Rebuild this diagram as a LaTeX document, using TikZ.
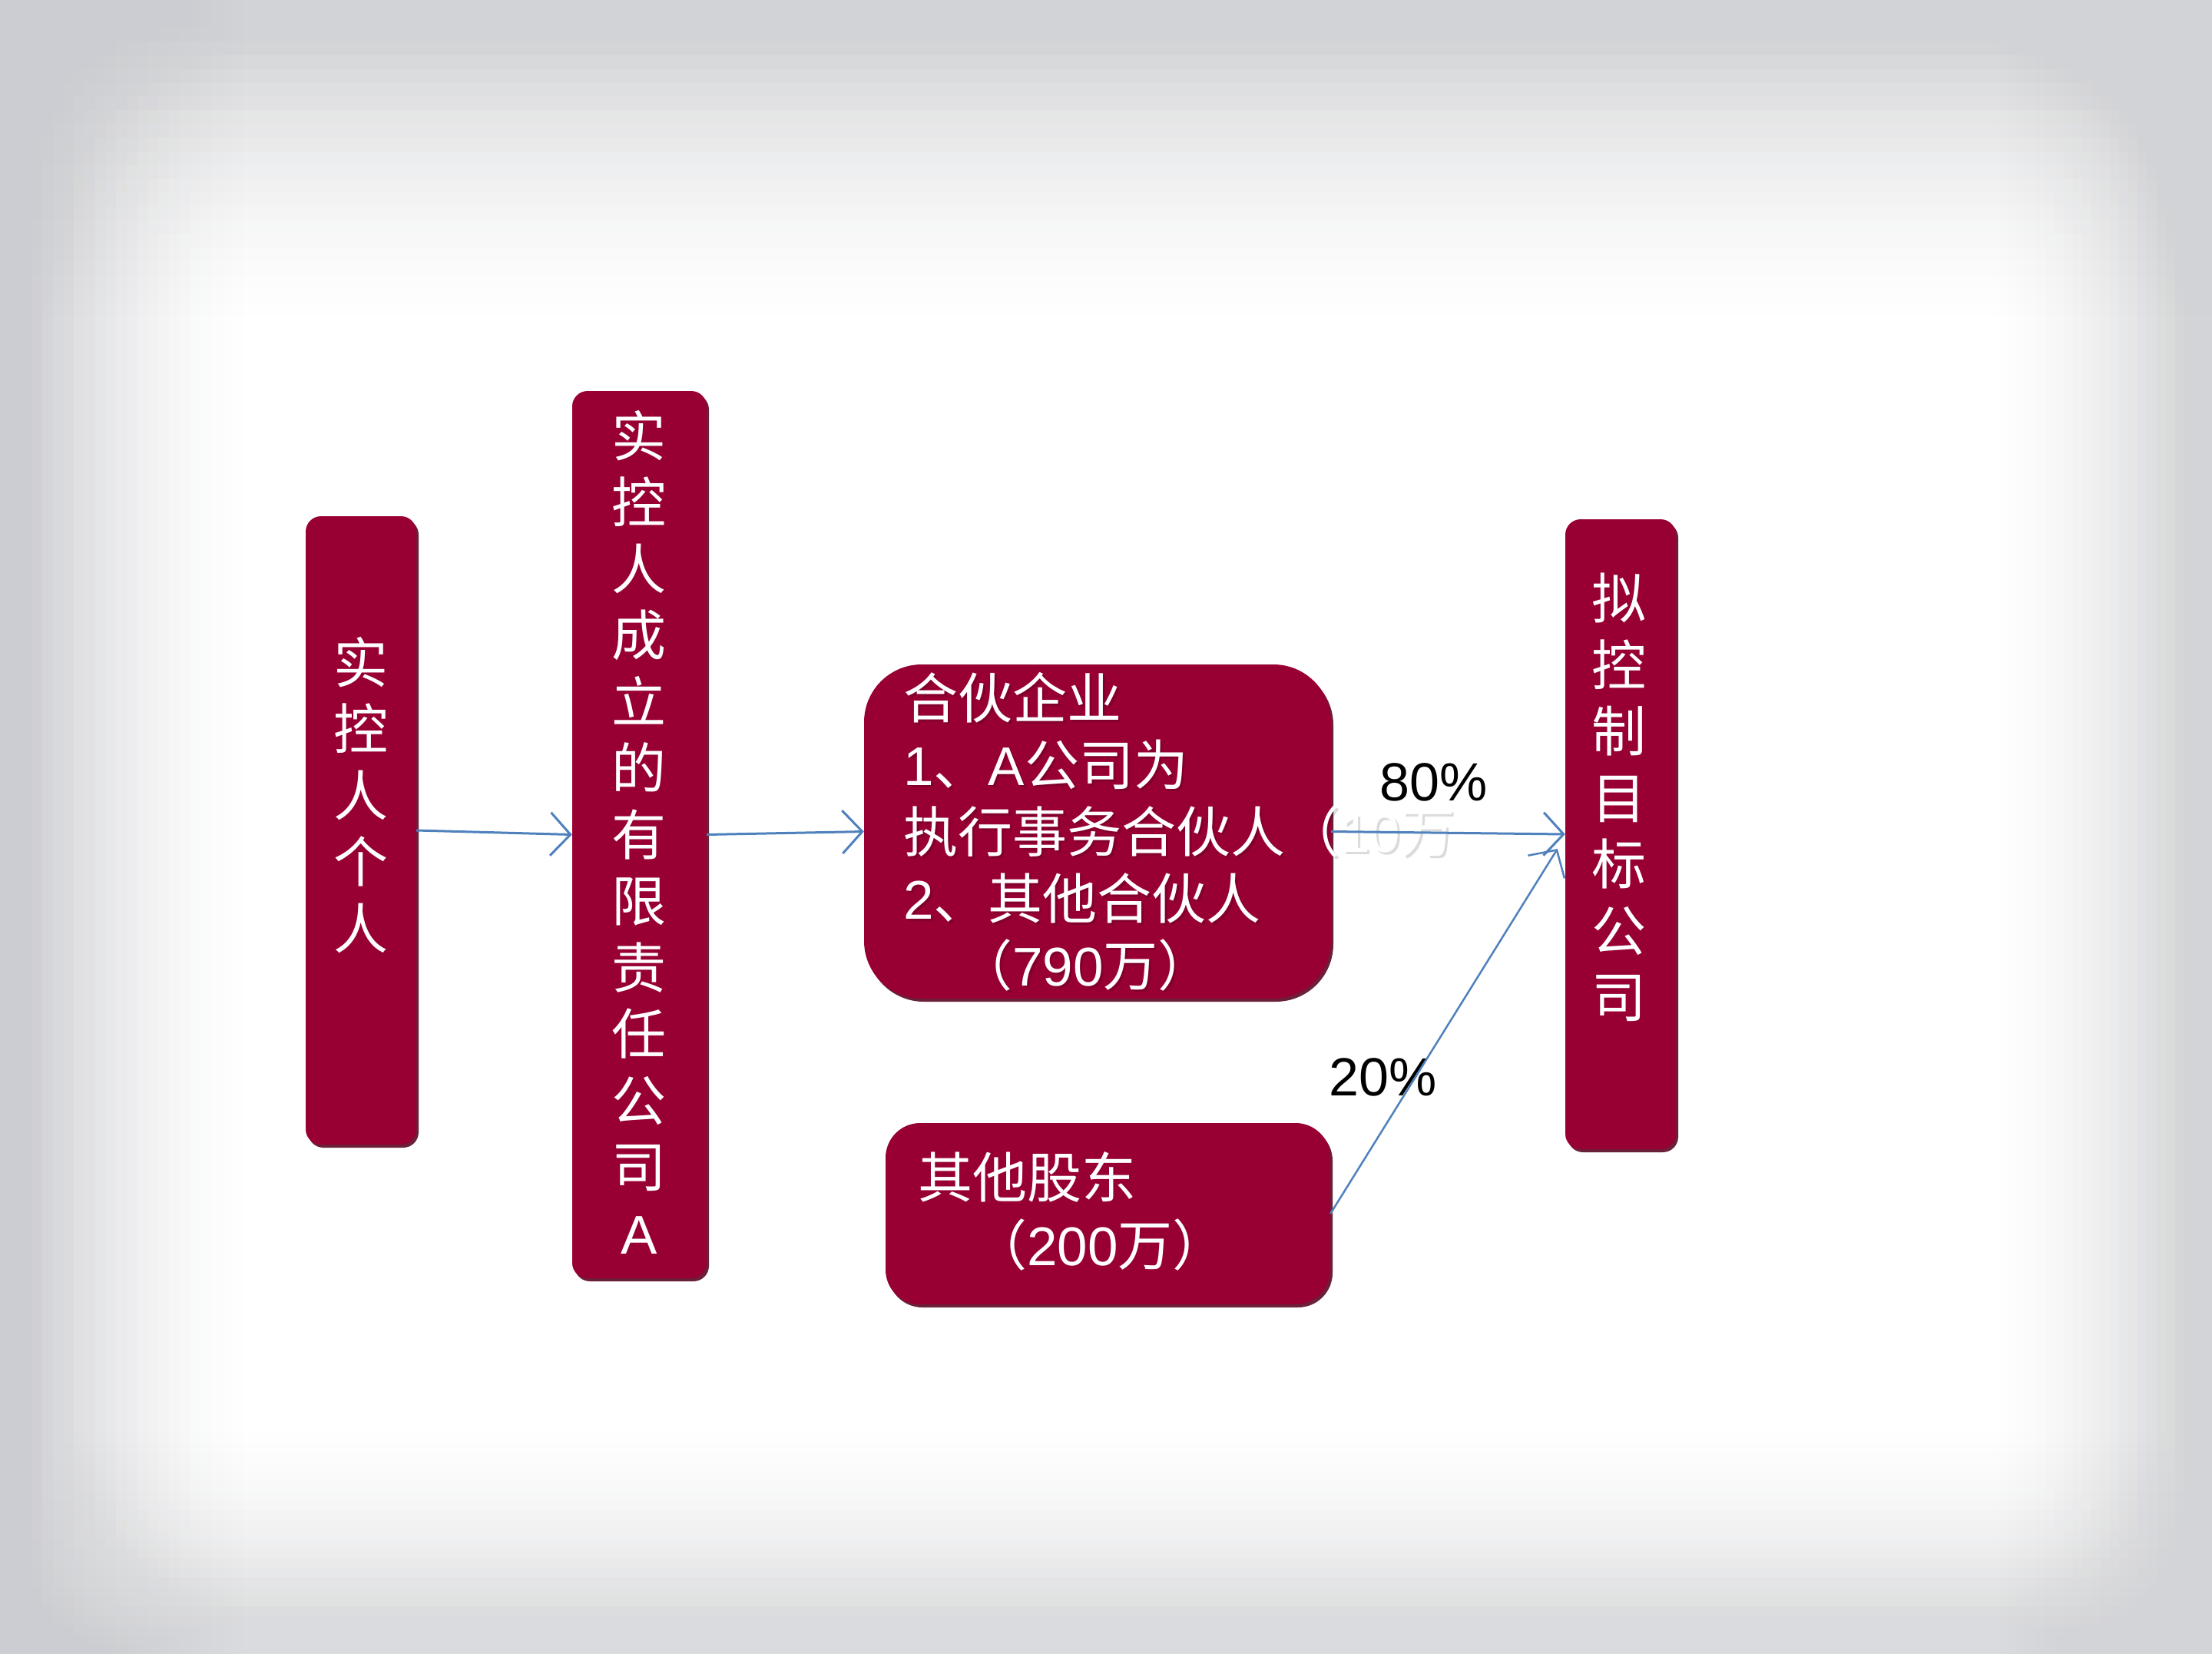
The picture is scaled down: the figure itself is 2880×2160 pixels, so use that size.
\documentclass[tikz,border=0pt]{standalone}
\usepackage{fontspec}
\setmainfont{Liberation Sans}
\newfontfamily\cjk{Noto Sans CJK SC}
\usetikzlibrary{arrows.meta,shadows}
\definecolor{boxred}{RGB}{152,0,51}
\definecolor{shadowred}{RGB}{92,8,36}
\definecolor{arrowblue}{RGB}{79,129,189}
\definecolor{bgleft}{RGB}{203,205,210}
\definecolor{bgright}{RGB}{211,212,216}
\definecolor{bgtop}{RGB}{209,211,215}
\definecolor{bgbottom}{RGB}{218,219,222}
\newcommand\mylat[1]{{\rmfamily #1}}
\begin{document}
\begin{tikzpicture}[x=1pt,y=-1pt,
  box/.style={draw=none, fill=boxred, rectangle, inner sep=0pt,
    drop shadow={shadow xshift=3pt, shadow yshift=-4pt, fill=shadowred, opacity=0.9}},
  vtext/.style={text=white, align=center, inner sep=0pt,
    font=\cjk\fontsize{71pt}{86.5pt}\selectfont},
  htext/.style={text=white, align=left, inner sep=0pt, anchor=west,
    font=\cjk\fontsize{71pt}{87pt}\selectfont},
  pct/.style={text=black, inner sep=0pt, font=\fontsize{70pt}{84pt}\selectfont},
  conn/.style={draw=arrowblue, line width=3pt,
    -{Straight Barb[length=26pt,width=56pt]}}]
% background with soft grey vignette (stacked translucent layers)
\fill[white] (0,0) rectangle (2880,2160);
\useasboundingbox (0,0) rectangle (2880,2160);
\foreach \k in {1,...,24}{
  \pgfmathsetmacro\fa{(1-(\k-0.5)/24)^2}
  \pgfmathsetmacro\fb{(max(0,1-(\k+0.5)/24))^2}
  \pgfmathsetmacro\al{1-(1-\fa)/(1-\fb)}
  \fill[bgleft, fill opacity=\al] (0,0) rectangle (\k*330/24,2160);
  \fill[bgright, fill opacity=\al] (2880-\k*290/24,0) rectangle (2880,2160);
  \fill[bgtop, fill opacity=\al] (0,0) rectangle (2880,\k*430/24);
  \fill[bgbottom, fill opacity=\al] (0,2153-\k*300/24) rectangle (2880,2153);
}
\fill[white] (0,2153) rectangle (2880,2160);

% boxes
\node[box, rounded corners=20pt, minimum width=144pt, minimum height=818pt] (b1) at (470,1081) {};
\node[box, rounded corners=20pt, minimum width=175pt, minimum height=1155pt] (b2) at (832.5,1086.5) {};
\node[box, rounded corners=75pt, minimum width=608pt, minimum height=435pt] (b3) at (1429,1082.5) {};
\node[box, rounded corners=45pt, minimum width=579pt, minimum height=236pt] (b4) at (1442.5,1580) {};
\node[box, rounded corners=20pt, minimum width=144pt, minimum height=820pt] (b5) at (2110,1086) {};

% texts
\node[vtext] (t1) at (470,1035) {实\\控\\人\\个\\人};
\node[vtext] (t2) at (832,1083) {实\\控\\人\\成\\立\\的\\有\\限\\责\\任\\公\\司\\\mylat{A}};
\node[vtext] (t5) at (2108,1038) {拟\\控\\制\\目\\标\\公\\司};
\node[htext, text=black, text opacity=0.14] (t3s) at (1179,1086) {合伙企业\\\mylat{1}、\mylat{A}公司为\\执行事务合伙人（\mylat{10}万\\\mylat{2}、其他合伙人\\\hspace*{1em}（\mylat{790}万）};
\node[htext] (t3) at (1176,1083) {合伙企业\\\mylat{1}、\mylat{A}公司为\\执行事务合伙人（\mylat{10}万\\\mylat{2}、其他合伙人\\\hspace*{1em}（\mylat{790}万）};
\node[htext, font=\cjk\fontsize{71pt}{88pt}\selectfont] (t4) at (1195,1577) {其他股东\\\hspace*{1em}（\mylat{200}万）};

% labels
\node[pct] (p80) at (1867,1018) {80\%};
\node[pct] (p20) at (1801,1402) {20\%};

% connectors
\draw[conn] (b1.east) -- (b2.west);
\draw[conn] (b2.east) -- (b3.west);
\draw[conn] (b3.east) -- (b5.west);
\draw[conn, line width=2.5pt] (b4.east) -- ([shift={(-10,19)}]b5.west);
\end{tikzpicture}
\end{document}
